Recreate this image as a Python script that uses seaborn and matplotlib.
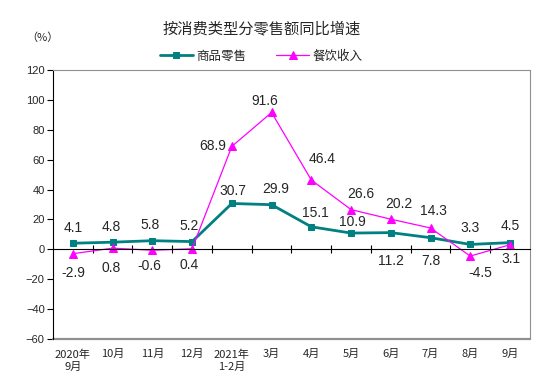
import numpy as np
import pandas as pd
import matplotlib
matplotlib.use("Agg")
import matplotlib.pyplot as plt
import seaborn as sns

# data
months = ["2020年\n9月", "10月", "11月", "12月", "2021年\n1-2月", "3月",
          "4月", "5月", "6月", "7月", "8月", "9月"]
goods_retail = [4.1, 4.8, 5.8, 5.2, 30.7, 29.9, 15.1, 10.9, 11.2, 7.8, 3.3, 4.5]
catering = [-2.9, 0.8, -0.6, 0.4, 68.9, 91.6, 46.4, 26.6, 20.2, 14.3, -4.5, 3.1]

# label offsets in points (dx, dy) relative to each point
goods_offsets = [(0, 11), (-1, 11), (-2, 11), (-2, 11), (1, 9), (3, 11),
                 (3, 10), (1, 8), None, None, (0, 12), (0, 12)]
catering_offsets = [(0, -14), (-1, -14), (-2, -11), (-2, -12), (-14, 0), (-5, 8),
                    (8, 15), (7, 11), (6, 11), (2, 12), (7, -12), (1, -10)]
# two labels in the reference sit just below the zero line
below_zero_y = -7.5

TEAL = "#008080"
MAGENTA = "#FF00FF"
GRAY = "#909090"

sns.set_style("white")
plt.rcParams["font.family"] = ["Liberation Sans", "Noto Sans CJK SC", "DejaVu Sans"]
CJK = ["Noto Sans CJK SC", "DejaVu Sans"]

df = pd.DataFrame({"pos": np.arange(len(months)),
                   "goods": goods_retail, "catering": catering})

fig = plt.figure(figsize=(5.5, 3.87), dpi=100)
ax = fig.add_axes([0.0964, 0.124, 0.867, 0.695])

sns.lineplot(data=df, x="pos", y="goods", ax=ax, color=TEAL, linewidth=2.0,
             marker="s", markersize=5, markeredgecolor=TEAL, label="商品零售")
sns.lineplot(data=df, x="pos", y="catering", ax=ax, color=MAGENTA, linewidth=0.9,
             marker="^", markersize=5.5, markeredgecolor=MAGENTA, label="餐饮收入")

ax.set_xlim(-0.5, len(months) - 0.5)
ax.set_ylim(-60, 120)
ax.set_yticks(range(-60, 121, 20))
ax.tick_params(axis="y", direction="out", length=4, width=0.8, labelsize=8, pad=2,
               left=True, color="black")

# x axis runs along zero, labels hang below the plot area
ax.spines["bottom"].set_position(("data", 0))
ax.spines["bottom"].set_color("black")
ax.spines["left"].set_color("black")
for s in ["top", "right"]:
    ax.spines[s].set_color(GRAY)
ax.axhline(-60, color=GRAY, linewidth=1.6, clip_on=False)
ax.set_xticks(df["pos"])
ax.set_xticklabels(months, fontsize=8, family=CJK, linespacing=1.3)
ax.set_xticks(np.arange(0.5, len(months) - 0.5, 1), minor=True)
ax.tick_params(axis="x", which="major", length=0, pad=72)
ax.tick_params(axis="x", which="minor", direction="inout", length=6, width=0.8,
               bottom=True, color="black")
ax.set_xlabel("")
ax.set_ylabel("")

for i, v in enumerate(goods_retail):
    off = goods_offsets[i]
    if off is None:
        ax.annotate(f"{v}", (i, below_zero_y), ha="center", va="center", fontsize=10)
    else:
        ax.annotate(f"{v}", (i, v), xytext=off, textcoords="offset points",
                    ha="center", va="center", fontsize=10)
for i, v in enumerate(catering):
    ax.annotate(f"{v}", (i, v), xytext=catering_offsets[i], textcoords="offset points",
                ha="center", va="center", fontsize=10)

handles, labels = ax.get_legend_handles_labels()
ax.get_legend().remove()
fig.legend(handles, labels, loc="center", bbox_to_anchor=(0.475, 0.855), ncol=2,
           frameon=False, prop={"family": CJK, "size": 9}, handlelength=2.6,
           columnspacing=2.4, handletextpad=0.3)

fig.text(0.475, 0.925, "按消费类型分零售额同比增速", ha="center", va="center",
         fontsize=11, family=CJK)
fig.text(0.078, 0.902, "（%）", ha="center", va="center", fontsize=8, family=CJK)

fig.savefig("out.png", dpi=100)
